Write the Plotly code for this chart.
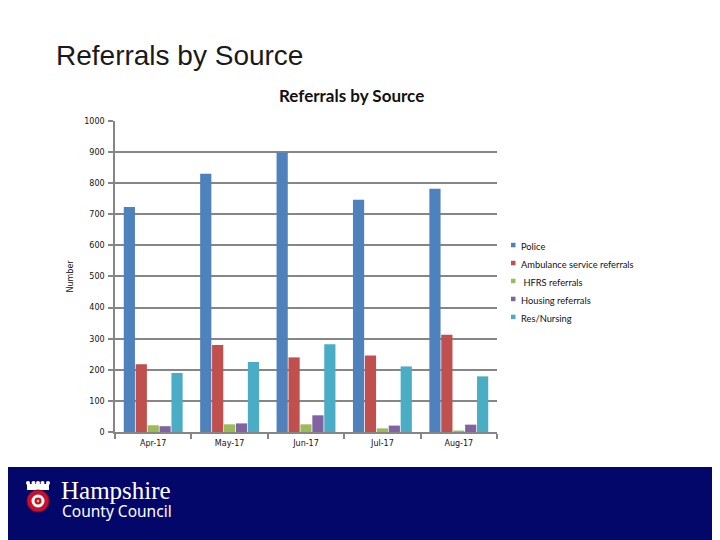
import plotly.graph_objects as go

months = ["Apr-17", "May-17", "Jun-17", "Jul-17", "Aug-17"]
police = [723, 830, 898, 746, 782]
ambulance = [218, 280, 240, 246, 313]
hfrs = [22, 25, 25, 12, 5]
housing = [19, 28, 54, 21, 24]
res_nursing = [190, 225, 282, 211, 179]

series_names = ["Police", "Ambulance service referrals", " HFRS referrals", "Housing referrals", "Res/Nursing"]
series_values = [police, ambulance, hfrs, housing, res_nursing]
series_colors = ["#4F81BD", "#C0504D", "#9BBB59", "#8064A2", "#4BACC6"]

W, H = 720, 540
# page places the figure with a body margin; screenshot is slightly squeezed vertically
X_OFF = 8
Y_OFF = 11
Y_SCALE = 0.9854


def px(x):
    return (x - X_OFF) / W


def py(y):
    d = (y - Y_OFF) / Y_SCALE
    return (H - d) / H


fig = go.Figure()
for name, vals, col in zip(series_names, series_values, series_colors):
    fig.add_trace(go.Bar(x=months, y=vals, name=name, showlegend=False,
                         marker=dict(color=col, line=dict(width=0))))

AX = "#868686"
fig.update_layout(
    width=W, height=H,
    margin=dict(l=0, r=0, t=0, b=0),
    paper_bgcolor="white", plot_bgcolor="white",
    barmode="group", bargap=0.22, bargroupgap=0.06,
    showlegend=False,
    xaxis=dict(domain=[px(115), px(497)], showgrid=False,
               showline=True, linecolor=AX, linewidth=1.5,
               ticks="outside", tickson="boundaries", ticklen=5, tickcolor=AX, tickwidth=1.5,
               ticklabelstandoff=3,
               tickfont=dict(family="DejaVu Sans", size=8, color="#111")),
    yaxis=dict(domain=[py(432), py(120)], range=[0, 1000], dtick=100,
               showgrid=True, gridcolor=AX, gridwidth=1.8,
               showline=True, linecolor=AX, linewidth=1.5,
               ticks="outside", ticklen=5, tickcolor=AX, tickwidth=1.5,
               ticklabelstandoff=2,
               tickfont=dict(family="DejaVu Sans", size=8, color="#111"),
               zeroline=False,
               title=dict(text="Number", font=dict(family="DejaVu Sans", size=8, color="#111"), standoff=9)),
    font=dict(family="DejaVu Sans"),
)

# Manual legend (small square markers like the original)
legend_y = [246, 264, 282, 300, 318]
for name, col, ly in zip(series_names, series_colors, legend_y):
    fig.add_shape(type="rect", xref="paper", yref="paper",
                  x0=px(511), x1=px(515.5), y0=py(ly + 0.8), y1=py(ly - 3.7),
                  fillcolor=col, line=dict(width=0))
    label = "&nbsp;" + name[1:] if name.startswith(" ") else name
    fig.add_annotation(text=label, xref="paper", yref="paper",
                       x=px(519), y=py(ly), xanchor="left", yanchor="middle", showarrow=False,
                       font=dict(family="Lato", size=9.3, color="#111"))

# Slide title and chart title
fig.add_annotation(text="Referrals by Source", xref="paper", yref="paper",
                   x=px(54), y=py(55), xanchor="left", yanchor="middle", showarrow=False,
                   font=dict(family="Liberation Sans", size=28, color="#1a1a1a"))
fig.add_annotation(text="<b>Referrals by Source</b>", xref="paper", yref="paper",
                   x=px(351), y=py(95), xanchor="center", yanchor="middle", showarrow=False,
                   font=dict(family="Lato", size=17, color="#111"))

# Footer band
fig.add_shape(type="rect", xref="paper", yref="paper", x0=-0.05, x1=1.05, y0=-0.05, y1=py(467),
              fillcolor="#04076A", line=dict(width=0), layer="above")
# Logo crest: crown + rose roundel
fig.add_shape(type="rect", xref="paper", yref="paper",
              x0=px(27), x1=px(49), y0=py(490), y1=py(484),
              fillcolor="white", line=dict(width=0), layer="above")
for cx in (28, 33.5, 38, 42.5, 48):
    fig.add_shape(type="circle", xref="paper", yref="paper",
                  x0=px(cx - 2), x1=px(cx + 2), y0=py(485), y1=py(481),
                  fillcolor="white", line=dict(width=0), layer="above")
fig.add_shape(type="circle", xref="paper", yref="paper",
              x0=px(27), x1=px(49), y0=py(512), y1=py(490),
              fillcolor="#C8102E", line=dict(color="#8a0a20", width=1), layer="above")
fig.add_shape(type="circle", xref="paper", yref="paper",
              x0=px(31.5), x1=px(44.5), y0=py(507.5), y1=py(494.5),
              fillcolor="white", line=dict(width=0), layer="above")
fig.add_shape(type="circle", xref="paper", yref="paper",
              x0=px(34.5), x1=px(41.5), y0=py(504.5), y1=py(497.5),
              fillcolor="#C8102E", line=dict(width=0), layer="above")
fig.add_shape(type="circle", xref="paper", yref="paper",
              x0=px(36.7), x1=px(39.3), y0=py(502.3), y1=py(499.7),
              fillcolor="#f2d24b", line=dict(width=0), layer="above")
fig.add_annotation(text="Hampshire", xref="paper", yref="paper",
                   x=px(59), y=py(491), xanchor="left", yanchor="middle", showarrow=False,
                   font=dict(family="Liberation Serif", size=25, color="white"))
fig.add_annotation(text="County Council", xref="paper", yref="paper",
                   x=px(60), y=py(511), xanchor="left", yanchor="middle", showarrow=False,
                   font=dict(family="Noto Sans", size=15.5, color="white"))

fig.write_html("out.html")
